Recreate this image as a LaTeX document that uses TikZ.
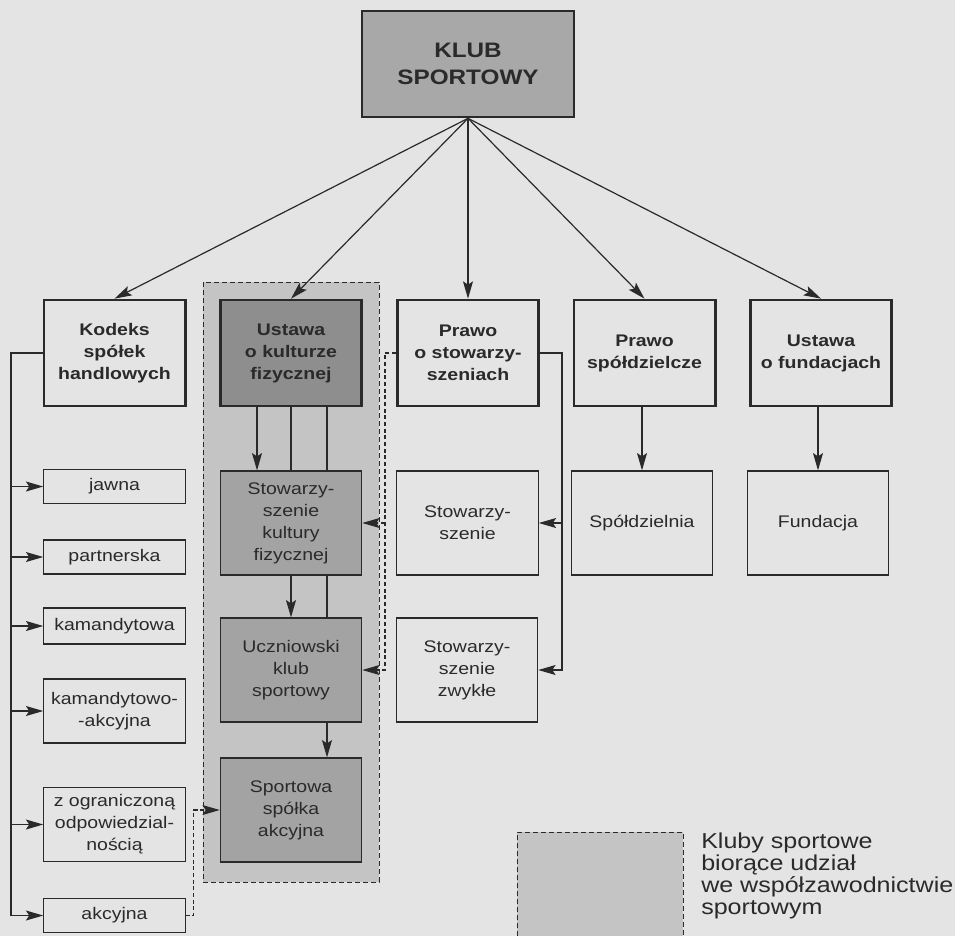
\documentclass[tikz,border=0pt]{standalone}
\usepackage{fontspec}
\setmainfont{Liberation Sans}[FakeStretch=1.16]
\usetikzlibrary{arrows.meta,positioning}

\definecolor{paper}{HTML}{E4E4E4}
\definecolor{ink}{HTML}{2A2A2A}
\definecolor{topgray}{HTML}{A8A8A8}
\definecolor{lawgray}{HTML}{8E8E8E}
\definecolor{clubgray}{HTML}{A3A3A3}
\definecolor{zonegray}{HTML}{C4C4C4}

\begin{document}
\begin{tikzpicture}[x=0.75pt, y=-0.75pt, >={Stealth[length=13pt,width=7.5pt,inset=2.5pt]},
   box/.style={draw=ink, text=ink, line width=0.9pt, align=center, inner sep=1pt,
     minimum width=106pt, font=\fontsize{12.6}{16.5}\selectfont},
   law/.style={box, line width=2pt, font=\bfseries\fontsize{12.6}{16.5}\selectfont, minimum height=79.5pt},
   form/.style={box, minimum height=78pt},
   kind/.style={box, minimum height=#1},
   line/.style={draw=ink, line width=0.9pt},
   dline/.style={line, dash pattern=on 3pt off 2pt},
   zone/.style={fill=zonegray, draw=ink, line width=0.7pt, dash pattern=on 3.5pt off 2.5pt}
   ]

   \useasboundingbox (0,0) rectangle (955,936);
   \fill[paper] (0,0) rectangle (955,936);

   \path[zone] (203,282) rectangle (379,882);

   \path (468,64) node[box, line width=2pt, fill=topgray, minimum width=159pt, minimum height=79.5pt,
      font=\bfseries\fontsize{15.7}{20.8}\selectfont] (klub) {KLUB\\SPORTOWY};

   \path (114.5,353) node[law] (kodeks) {Kodeks\\spółek\\handlowych}
   (291,353) node[law, fill=lawgray] (ukf) {Ustawa\\o kulturze\\fizycznej}
   (468,353) node[law] (pos) {Prawo\\o stowarzy-\\szeniach}
   (644.5,353) node[law] (psp) {Prawo\\spółdzielcze}
   (821,353) node[law] (ufu) {Ustawa\\o fundacjach};

   \path (291,523) node[form, fill=clubgray] (skf) {Stowarzy-\\szenie\\kultury\\fizycznej}
   (467.5,523) node[form] (sto) {Stowarzy-\\szenie}
   (642,523) node[form] (spd) {Spółdzielnia}
   (818,523) node[form] (fun) {Fundacja};

   \path (291,670) node[form, fill=clubgray] (uks) {Uczniowski\\klub\\sportowy}
   (467,670) node[form] (szw) {Stowarzy-\\szenie\\zwykłe};

   \path (291,810) node[form, fill=clubgray] (ssa) {Sportowa\\spółka\\akcyjna};

   \path (114.5,486.5) node[kind=26pt] (jawna) {jawna}
   (114.5,557) node[kind=25.5pt] (partn) {partnerska}
   (114.5,626) node[kind=27pt] (kam) {kamandytowa}
   (114.5,711) node[kind=48pt] (kamak) {kamandytowo-\\-akcyjna}
   (114.5,824.5) node[kind=56pt] (zoo) {z ograniczoną\\odpowiedzial-\\nością}
   (114.5,915.5) node[kind=26pt] (akc) {akcyjna};

   \foreach \t in {kodeks,ukf,pos,psp,ufu}
     \draw[line,->] (klub.south) -- (\t.north);

   \draw[line,->] ([xshift=-25.5pt]ukf.south) -- ([xshift=-25.5pt]skf.north);
   \draw[line] (ukf.south) -- (skf.north);
   \draw[line,->] (skf.south) -- (uks.north);
   \draw[line] ([xshift=27pt]ukf.south) -- ([xshift=27pt]skf.north);
   \draw[line] ([xshift=27pt]skf.south) -- ([xshift=27pt]uks.north);
   \draw[line,->] ([xshift=27pt]uks.south) -- ([xshift=27pt]ssa.north);

   \draw[line,->] (spd.north |- psp.south) -- (spd.north);
   \draw[line,->] (fun.north |- ufu.south) -- (fun.north);

   \coordinate (bus) at (11,353);
   \draw[line,->] (kodeks.west) -- (bus) |- (akc.west);
   \foreach \b in {jawna,partn,kam,kamak,zoo}
     \draw[line,->] (\b.west -| bus) -- (\b.west);

   \coordinate (rbus) at (562,353);
   \draw[line,->] (pos.east) -- (rbus) |- (szw.east);
   \draw[line,->] (sto.east -| rbus) -- (sto.east);

   \coordinate (lbus) at (385,353);
   \draw[dline,->] (pos.west) -- (lbus) |- (uks.east);
   \draw[dline,->] (skf.east -| lbus) -- (skf.east);

   \draw[dline,->] (akc.east) -- ++(8,0) |- (ssa.west);

   % legenda
   \fill[zonegray] (517,832) rectangle (683,936);
   \draw[zone, fill=none] (517,936) -- (517,832) -- (683,832) -- (683,936);
   \node[anchor=north west, inner sep=0pt, align=left, text=ink,
      font=\fontsize{16.2}{16.4}\selectfont] (key) at (701,833)
      {Kluby sportowe\\biorące udział\\we współzawodnictwie\\sportowym};

\end{tikzpicture}
\end{document}
